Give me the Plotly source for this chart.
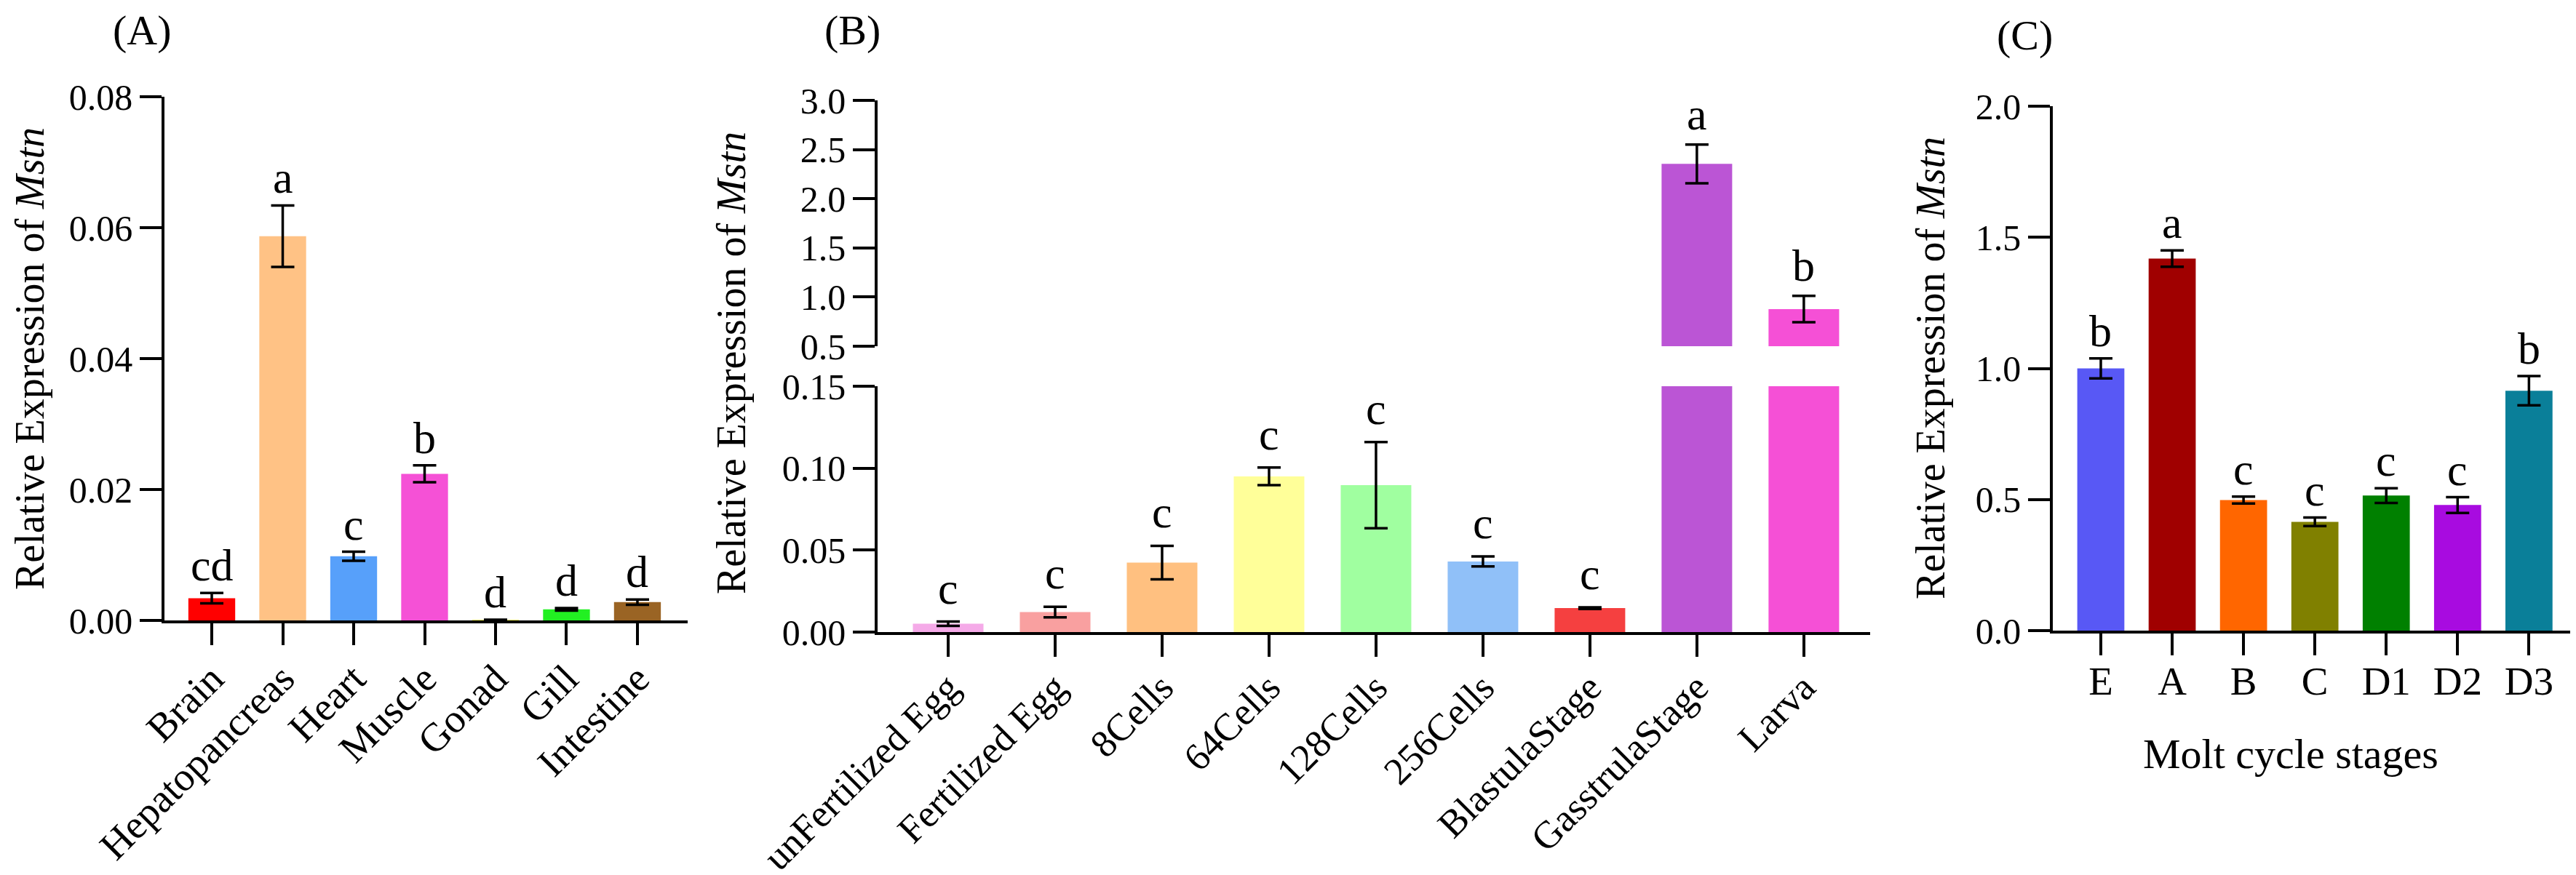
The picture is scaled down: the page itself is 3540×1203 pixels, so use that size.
import plotly.graph_objects as go

# ---------------- data ----------------
tissues = ["Brain", "Hepatopancreas", "Heart", "Muscle", "Gonad", "Gill", "Intestine"]
tissue_vals = [0.0034, 0.0587, 0.0098, 0.0224, 0.0001, 0.0017, 0.0028]
tissue_err = [0.0008, 0.0047, 0.0007, 0.0013, 0.0, 0.0002, 0.0004]
tissue_letters = ["cd", "a", "c", "b", "d", "d", "d"]
tissue_colors = ["#FF0000", "#FFC285", "#57A0FA", "#F551D6", "#FFFF66", "#22F022", "#9A6424"]

stages = ["unFertilized Egg", "Fertilized Egg", "8Cells", "64Cells", "128Cells",
          "256Cells", "BlastulaStage", "GasstrulaStage", "Larva"]
stage_vals = [0.0051, 0.0122, 0.0424, 0.0950, 0.0896, 0.0431, 0.0146, 2.354, 0.878]
stage_err = [0.0013, 0.0032, 0.0102, 0.0054, 0.0263, 0.0030, 0.0005, 0.197, 0.134]
stage_letters = ["c", "c", "c", "c", "c", "c", "c", "a", "b"]
stage_colors = ["#F5AAE8", "#F9A0A0", "#FFC080", "#FFFF99", "#A0FFA0",
                "#90C0F8", "#F54040", "#BB55D5", "#F550D6"]

molt = ["E", "A", "B", "C", "D1", "D2", "D3"]
molt_vals = [1.000, 1.419, 0.498, 0.415, 0.515, 0.479, 0.915]
molt_err = [0.038, 0.031, 0.013, 0.016, 0.028, 0.030, 0.056]
molt_letters = ["b", "a", "c", "c", "c", "c", "b"]
molt_colors = ["#5858F5", "#A00000", "#FF6600", "#808000", "#008000", "#A80BE0", "#0A7F99"]

# ---------------- layout helpers ----------------
W, H = 3540, 1203
FONT = "Liberation Serif"
YTICK_SIZE = 50
ATICK_SIZE = 55
BTICK_SIZE = 53
CTICK_SIZE = 55
TITLE_SIZE = 56
LETTER_SIZE = 62


def px_x(p):
    return p / W


def px_y(p):
    return 1 - p / H


fig = go.Figure()


def add_bars(cats, vals, errs, colors, xa, ya, width=0.66):
    fig.add_trace(go.Bar(
        x=cats, y=vals, marker=dict(color=colors, line=dict(width=0)),
        width=width,
        error_y=dict(type="data", array=errs, visible=True, color="black",
                     thickness=3.5, width=16),
        xaxis=xa, yaxis=ya, showlegend=False,
    ))


add_bars(tissues, tissue_vals, tissue_err, tissue_colors, "x", "y")
add_bars(stages, stage_vals, stage_err, stage_colors, "x2", "y2")
add_bars(stages, stage_vals, stage_err, stage_colors, "x3", "y3")
add_bars(molt, molt_vals, molt_err, molt_colors, "x4", "y4")


def ax(size, **kw):
    d = dict(
        showline=True, linecolor="black", linewidth=3.5,
        ticks="outside", ticklen=30, tickwidth=3.5, tickcolor="black",
        showgrid=False, zeroline=False, automargin=False,
        tickfont=dict(family=FONT, size=size, color="black"),
    )
    d.update(kw)
    return d


fig.update_layout(
    width=W, height=H,
    margin=dict(l=0, r=0, t=0, b=0, pad=0, autoexpand=False),
    paper_bgcolor="white", plot_bgcolor="white",
    font=dict(family=FONT, color="black"),
    bargap=0.34,
    # Panel A
    xaxis=ax(ATICK_SIZE, domain=[px_x(218), px_x(937)], anchor="y",
             range=[-0.667, 6.708], tickangle=-45, ticklabelstandoff=-8),
    yaxis=ax(YTICK_SIZE, domain=[px_y(845), px_y(125)], anchor="x",
             range=[0, 0.08], tickvals=[0, 0.02, 0.04, 0.06, 0.08],
             tickformat=".2f"),
    # Panel B lower
    xaxis2=ax(BTICK_SIZE, domain=[px_x(1198), px_x(2562)], anchor="y2",
              range=[-0.66, 8.62], tickangle=-45, ticklabelstandoff=-10),
    yaxis2=ax(YTICK_SIZE, domain=[px_y(861), px_y(523)], anchor="x2",
              range=[0, 0.15], tickvals=[0, 0.05, 0.10, 0.15],
              tickformat=".2f"),
    # Panel B upper
    xaxis3=dict(domain=[px_x(1198), px_x(2562)], anchor="y3",
                range=[-0.66, 8.62], visible=False, matches="x2", automargin=False),
    yaxis3=ax(YTICK_SIZE, domain=[px_y(468), px_y(130)], anchor="x3",
              range=[0.5, 3.0], tickvals=[0.5, 1.0, 1.5, 2.0, 2.5, 3.0],
              tickformat=".1f"),
    # Panel C
    xaxis4=ax(CTICK_SIZE, domain=[px_x(2813), px_x(3536)], anchor="y4",
              range=[-0.673, 6.70], tickangle=0, ticklabelstandoff=-12),
    yaxis4=ax(YTICK_SIZE, domain=[px_y(859), px_y(138)], anchor="x4",
              range=[0, 2.0], tickvals=[0, 0.5, 1.0, 1.5, 2.0],
              tickformat=".1f"),
)

annotations = []


def letters(cats, vals, errs, labs, xr, yr, shift=6, only=None):
    for i, (c, v, e, l) in enumerate(zip(cats, vals, errs, labs)):
        if only is not None and i not in only:
            continue
        annotations.append(dict(
            x=c, y=v + e, xref=xr, yref=yr, text=l, showarrow=False,
            xanchor="center", yanchor="bottom", yshift=shift,
            font=dict(family=FONT, size=LETTER_SIZE, color="black"),
        ))


letters(tissues, tissue_vals, tissue_err, tissue_letters, "x", "y", shift=2)
letters(stages, stage_vals, stage_err, stage_letters, "x2", "y2", shift=10, only=range(0, 7))
letters(stages, stage_vals, stage_err, stage_letters, "x3", "y3", shift=6, only=[7, 8])
letters(molt, molt_vals, molt_err, molt_letters, "x4", "y4", shift=2)

ytitle = "Relative Expression of <i>Mstn</i>"
for xp, yp in [(33, 485), (997, 491), (2645, 498)]:
    annotations.append(dict(
        x=px_x(xp), y=px_y(yp), xref="paper", yref="paper", text=ytitle,
        textangle=-90, showarrow=False, xanchor="center", yanchor="middle",
        font=dict(family=FONT, size=TITLE_SIZE, color="black"),
    ))

for txt, xp, yp in [("(A)", 187, 34), ("(B)", 1163, 34), ("(C)", 2774, 40)]:
    annotations.append(dict(
        x=px_x(xp), y=px_y(yp), xref="paper", yref="paper", text=txt,
        showarrow=False, xanchor="center", yanchor="middle",
        font=dict(family=FONT, size=58, color="black"),
    ))

annotations.append(dict(
    x=px_x(3140), y=px_y(1028), xref="paper", yref="paper",
    text="Molt cycle stages", showarrow=False, xanchor="center", yanchor="middle",
    font=dict(family=FONT, size=58, color="black"),
))

fig.update_layout(annotations=annotations)

fig.write_html("out.html")
